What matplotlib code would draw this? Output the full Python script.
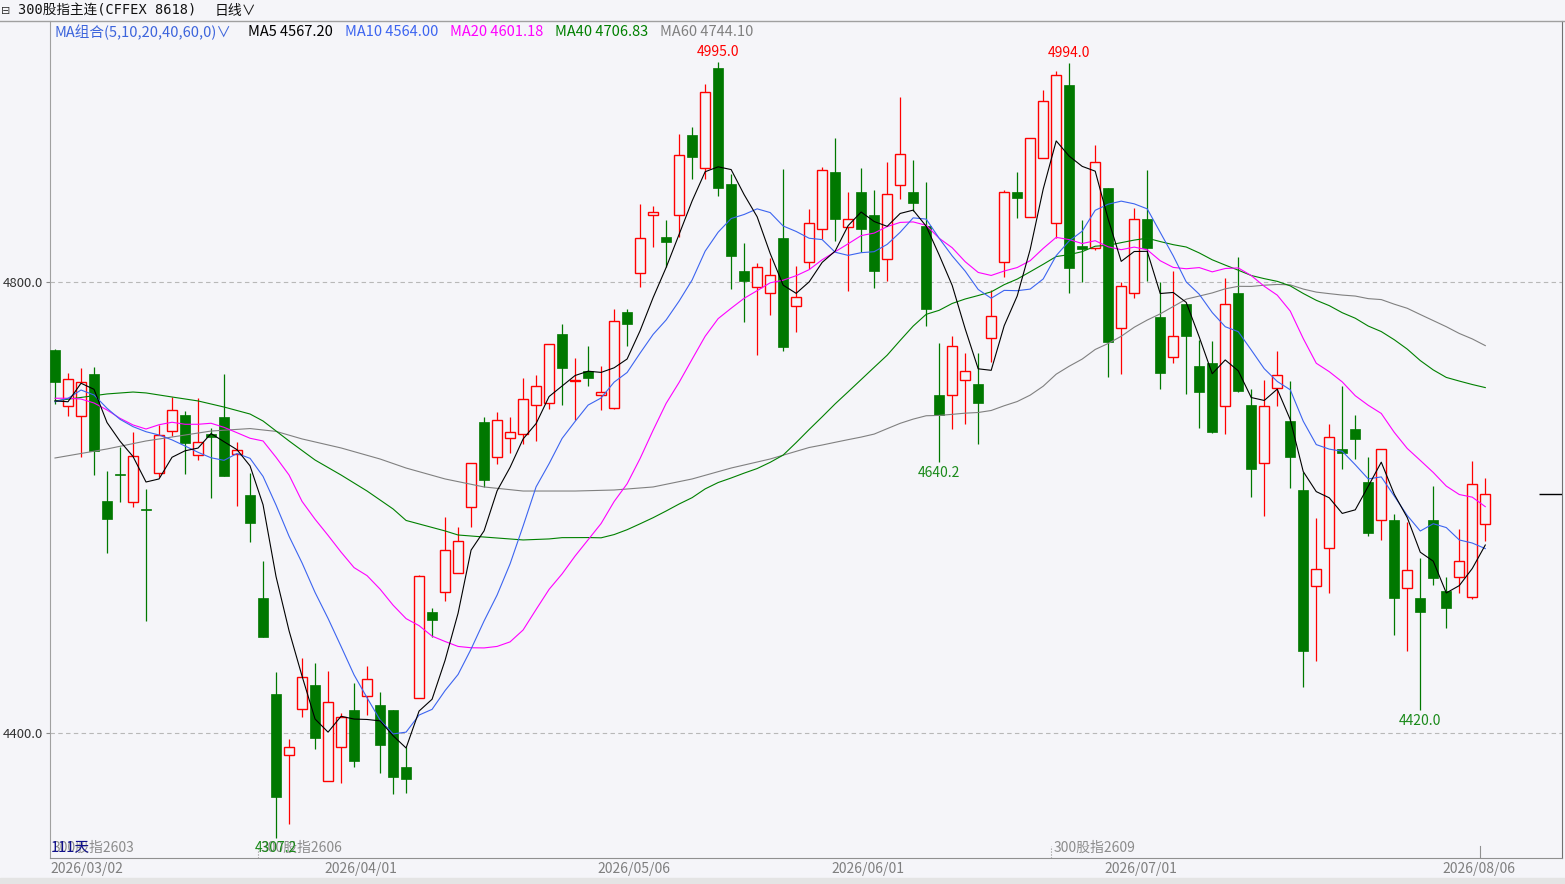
import numpy as np
import pandas as pd
import matplotlib
matplotlib.use('Agg')
import matplotlib.pyplot as plt
from matplotlib.patches import Rectangle

plt.rcParams['font.family'] = ['Noto Sans CJK SC', 'DejaVu Sans']

# daily OHLC, 300股指主连, 111 bars
opens = [4739.7, 4689.8, 4680.9, 4718.4, 4605.8, 4629.5, 4604.6, 4598.8, 4630.3, 4667.6,
         4681.8, 4646.3, 4664.9, 4680.0, 4647.7, 4611.1, 4519.7, 4434.6, 4380.2, 4421.0,
         4442.6, 4357.2, 4387.3, 4420.4, 4432.5, 4424.8, 4420.4, 4369.8, 4430.8, 4507.3,
         4524.8, 4541.6, 4600.2, 4675.8, 4644.5, 4661.4, 4664.9, 4690.6, 4692.4, 4753.9,
         4711.9, 4721.1, 4700.0, 4688.0, 4773.4, 4807.7, 4859.2, 4839.9, 4859.2, 4930.4,
         4900.8, 4989.8, 4886.9, 4809.8, 4795.8, 4790.0, 4838.8, 4779.0, 4817.7, 4846.7,
         4897.6, 4849.0, 4879.8, 4859.4, 4820.1, 4885.8, 4879.6, 4849.9, 4699.8, 4699.5,
         4712.8, 4709.5, 4750.1, 4818.0, 4879.8, 4857.9, 4909.7, 4852.1, 4974.7, 4831.9,
         4829.9, 4883.4, 4758.9, 4790.0, 4855.9, 4769.0, 4733.2, 4780.5, 4725.5, 4727.9,
         4689.8, 4790.0, 4690.9, 4639.2, 4705.7, 4676.7, 4615.5, 4530.1, 4563.8, 4651.9,
         4669.6, 4622.6, 4588.6, 4588.9, 4528.3, 4519.7, 4588.9, 4525.9, 4538.1, 4520.4,
         4585.1]
highs = [4740.6, 4719.6, 4724.0, 4724.9, 4632.4, 4653.9, 4667.0, 4616.1, 4673.2, 4698.3,
         4685.6, 4696.9, 4670.2, 4718.4, 4657.8, 4630.3, 4552.5, 4454.1, 4394.7, 4466.5,
         4461.8, 4455.0, 4417.5, 4444.6, 4459.7, 4436.4, 4420.4, 4387.8, 4540.1, 4510.9,
         4591.6, 4582.7, 4639.2, 4680.5, 4684.7, 4680.5, 4714.9, 4717.5, 4745.0, 4762.7,
         4732.3, 4743.2, 4725.5, 4775.8, 4775.8, 4869.2, 4867.7, 4855.0, 4931.3, 4937.2,
         4975.6, 4995.0, 4895.8, 4834.9, 4817.1, 4821.3, 4900.5, 4814.2, 4864.5, 4901.7,
         4927.7, 4879.8, 4901.1, 4881.6, 4906.4, 4964.3, 4908.2, 4888.7, 4745.6, 4752.1,
         4736.8, 4736.8, 4792.9, 4881.6, 4897.8, 4928.0, 4970.3, 4987.1, 4994.0, 4855.0,
         4921.5, 4883.4, 4799.7, 4865.9, 4899.3, 4800.3, 4809.8, 4780.5, 4748.6, 4747.9,
         4803.3, 4822.4, 4704.8, 4713.1, 4738.8, 4712.2, 4631.8, 4590.4, 4674.1, 4707.8,
         4682.0, 4645.1, 4651.9, 4594.0, 4587.4, 4554.9, 4619.1, 4538.6, 4581.0, 4641.3,
         4626.4]
lows = [4691.8, 4681.4, 4645.1, 4628.8, 4559.9, 4605.1, 4600.7, 4499.6, 4627.3, 4663.4,
        4629.7, 4641.9, 4608.7, 4627.9, 4601.6, 4569.7, 4485.0, 4307.2, 4319.0, 4414.5,
        4386.1, 4357.2, 4355.4, 4370.1, 4416.2, 4364.8, 4345.6, 4346.5, 4430.8, 4485.4,
        4517.3, 4541.6, 4583.0, 4618.5, 4638.8, 4648.6, 4656.1, 4659.2, 4687.6, 4691.2,
        4677.6, 4708.0, 4686.5, 4687.0, 4743.5, 4795.8, 4831.3, 4813.6, 4840.2, 4891.6,
        4891.1, 4876.5, 4793.5, 4764.8, 4735.0, 4770.7, 4739.1, 4755.9, 4811.3, 4837.9,
        4836.6, 4792.3, 4826.6, 4794.7, 4801.2, 4873.9, 4863.2, 4761.0, 4640.2, 4669.4,
        4673.8, 4656.0, 4729.3, 4804.2, 4857.0, 4857.9, 4909.7, 4838.8, 4790.0, 4800.3,
        4828.4, 4716.0, 4718.1, 4785.5, 4800.9, 4704.8, 4727.9, 4700.4, 4670.8, 4665.8,
        4664.9, 4702.7, 4609.6, 4592.7, 4690.3, 4617.6, 4441.0, 4464.1, 4523.9, 4633.9,
        4643.3, 4575.0, 4571.2, 4486.9, 4473.0, 4420.0, 4531.3, 4493.4, 4523.9, 4519.1,
        4570.6]
closes = [4711.6, 4713.7, 4711.0, 4650.4, 4590.1, 4628.8, 4645.7, 4598.0, 4664.0, 4686.2,
          4657.5, 4657.8, 4662.3, 4627.9, 4650.7, 4585.9, 4485.4, 4343.5, 4387.8, 4449.4,
          4395.8, 4427.2, 4413.9, 4375.4, 4447.6, 4389.6, 4361.3, 4359.5, 4539.2, 4500.0,
          4562.3, 4570.3, 4639.2, 4624.7, 4677.3, 4666.7, 4696.0, 4707.5, 4744.7, 4724.0,
          4713.1, 4715.1, 4702.2, 4765.1, 4763.0, 4838.8, 4861.8, 4835.5, 4912.4, 4911.1,
          4968.2, 4883.6, 4823.3, 4801.2, 4813.0, 4805.9, 4742.6, 4787.0, 4852.1, 4899.3,
          4856.1, 4855.6, 4847.3, 4810.0, 4877.8, 4913.3, 4870.3, 4776.3, 4682.0, 4743.0,
          4720.8, 4692.9, 4769.6, 4879.8, 4874.8, 4927.5, 4960.3, 4983.3, 4812.2, 4829.5,
          4906.2, 4747.1, 4796.5, 4855.9, 4830.4, 4719.0, 4751.8, 4752.4, 4702.7, 4667.2,
          4780.2, 4703.6, 4633.9, 4689.8, 4717.3, 4645.1, 4473.0, 4545.2, 4662.3, 4648.1,
          4661.0, 4577.6, 4651.9, 4520.0, 4544.6, 4507.6, 4537.7, 4511.1, 4552.5, 4620.6,
          4611.7]

# moving averages before their window is full come from bars left of the chart,
# so those starts are read off the picture
ma5_head = [4694.5, 4693.8, 4710.2, 4704.8]
ma10_head = [4693.8, 4696.8, 4704.2, 4699.8, 4688.0, 4678.2, 4671.7, 4667.2, 4664.3]
ma20_head = [4696.9, 4696.9, 4696.2, 4692.7, 4686.5, 4679.1, 4673.2, 4669.6, 4673.4, 4675.6,
             4673.8, 4673.8, 4674.7, 4671.1, 4666.3, 4661.4, 4659.0, 4644.5, 4628.8]
ma40_head_idx = [0, 4, 6, 7, 9, 11, 13, 15, 16, 18, 20, 22, 24, 26, 27, 28, 30, 31, 33, 36, 38]
ma40_head_val = [4694.5, 4700.7, 4702.4, 4701.6, 4698.0, 4694.5, 4689.1, 4682.9, 4676.7, 4659.0,
                 4642.1, 4628.8, 4614.6, 4598.7, 4588.5, 4585.4, 4579.2, 4575.6, 4573.8, 4571.2,
                 4572.1]
ma60_head_idx = [0, 4, 7, 9, 12, 15, 17, 19, 22, 25, 27, 30, 33, 36, 40, 43, 46, 49, 52, 55, 58]
ma60_head_val = [4643.9, 4651.9, 4659.0, 4662.5, 4667.8, 4670.0, 4667.5, 4660.8, 4652.8, 4643.0,
                 4635.0, 4625.3, 4618.2, 4614.6, 4614.6, 4615.5, 4618.2, 4625.3, 4635.0, 4643.0,
                 4653.2]

ma_names = ['MA5', 'MA10', 'MA20', 'MA40', 'MA60']
ma_last = [4567.20, 4564.00, 4601.18, 4706.83, 4744.10]

date_labels = ['2026/03/02', '2026/04/01', '2026/05/06', '2026/06/01', '2026/07/01', '2026/08/06']
date_idx = [0, 23, 44, 62, 83, 109]
contract_labels = ['300股指2603', '300股指2606', '300股指2609']
contract_idx = [0, 16, 77]

high_marks = [51, 78]
low_marks = [17, 68, 105]

bg = '#f5f5f9'
up_col = '#ff0000'
dn_col = '#007800'
ma_cols = ['#000000', '#3c64f0', '#ff00ff', '#008000', '#808080']

W, H = 1565, 884
fig = plt.figure(figsize=(W / 100, H / 100), dpi=100, facecolor=bg)
ax = fig.add_axes([50 / W, 1 - 858 / H, (1562 - 50) / W, (858 - 21) / H])
ax.set_facecolor(bg)
ax.set_xlim(-0.385, 115.9)
ax.set_ylim(4289.1, 5031.5)

n = len(closes)
c = pd.Series(closes)

# candles
w = 0.8
for i in range(n):
    o, h, l, cl = opens[i], highs[i], lows[i], closes[i]
    up = cl >= o
    col = up_col if up else dn_col
    ax.vlines(i, l, h, color=col, lw=0.9, zorder=2)
    bottom = min(o, cl)
    hgt = max(abs(cl - o), 0.9)
    if up:
        ax.add_patch(Rectangle((i - w / 2, bottom), w, hgt, facecolor=bg,
                               edgecolor=up_col, lw=1.0, zorder=3))
    else:
        ax.add_patch(Rectangle((i - w / 2, bottom), w, hgt, facecolor=dn_col,
                               edgecolor=dn_col, lw=0.5, zorder=3))


def full_ma(win, head):
    s = c.rolling(win).mean().values
    s[:len(head)] = head
    return np.arange(n), s


def sparse_ma(win, hidx, hval):
    s = c.rolling(win).mean().values
    xs = list(hidx) + list(range(win - 1, n))
    ys = list(hval) + list(s[win - 1:])
    return xs, ys


ma_lines = [full_ma(5, ma5_head), full_ma(10, ma10_head), full_ma(20, ma20_head),
            sparse_ma(40, ma40_head_idx, ma40_head_val),
            sparse_ma(60, ma60_head_idx, ma60_head_val)]
for (xs, ys), col in zip(ma_lines[::-1], ma_cols[::-1]):
    ax.plot(xs, ys, color=col, lw=0.8, zorder=4)

# grid and y labels
for lv in [4400, 4800]:
    ax.axhline(lv, color='#b8b8b8', lw=0.8, ls=(0, (4, 3)), zorder=1)
ax.set_yticks([4400, 4800])
ax.set_yticklabels(['4400.0', '4800.0'], fontsize=9.5, color='#333333')
ax.tick_params(axis='y', length=3, pad=2, color='#888888')
ax.set_xticks([])

ax.spines['top'].set_visible(False)
ax.spines['left'].set_color('#a0a0a0')
ax.spines['bottom'].set_color('#909090')
ax.spines['right'].set_color('#707070')

# high / low marks
for i in high_marks:
    ax.annotate(f'{highs[i]:.1f}', (i, highs[i]), xytext=(0, 7.5), textcoords='offset points',
                ha='center', va='center', color='#ff0000', fontsize=10, zorder=5)
for i in low_marks:
    ax.annotate(f'{lows[i]:.1f}', (i, lows[i]), xytext=(0, -7.5), textcoords='offset points',
                ha='center', va='center', color='#1a8a1a', fontsize=10, zorder=6)

# last price marker
ax.hlines(closes[-1], 114.1, 115.9, color='black', lw=1.0, zorder=5)

# contract names and bar count along the bottom
xt = ax.get_xaxis_transform()
for lab, i in zip(contract_labels, contract_idx):
    ax.text(i - 0.2, 0.012, lab, transform=xt, ha='left', va='center', color='#8c8c8c', fontsize=10)
    if i > 0:
        ax.plot([i - 0.4, i - 0.4], [0, 0.014], transform=xt, color='#909090', lw=0.8, ls=':')
ax.text(-0.3, 0.013, f'{n}天', transform=xt, ha='left', va='center', color='#10108c', fontsize=10.5)
ax.plot([date_idx[-1] + 0.6] * 2, [0, 0.014], transform=xt, color='#909090', lw=0.8)

# date labels
for k, (lab, i) in enumerate(zip(date_labels, date_idx)):
    if k == 0:
        ax.text(-0.385, -0.0131, lab, transform=xt, ha='left', va='center', color='#7f7f7f', fontsize=10)
    else:
        ax.text(i + 0.5, -0.0131, lab, transform=xt, ha='center', va='center', color='#7f7f7f', fontsize=10)

# header bar
fig.add_artist(plt.Line2D([0, 1], [1 - 21 / H, 1 - 21 / H], color='#a0a0a0', lw=1.0))
fig.add_artist(Rectangle((0, 0), 1, 6 / H, transform=fig.transFigure, color='#e4e4e4'))
fig.text(1 / W, 1 - 11 / H, '⊟', fontsize=8, va='center', ha='left', color='#333333')
fig.text(18 / W, 1 - 11 / H, '300股指主连(CFFEX 8618)', fontsize=9.8, va='center', ha='left',
         color='#111111', family=['DejaVu Sans Mono', 'Noto Sans CJK SC'])
fig.text(215 / W, 1 - 11 / H, '日线∨', fontsize=10, va='center', ha='left', color='#111111')

# MA legend
ly = 1 - 32 / H
fig.text(55 / W, ly, 'MA组合(5,10,20,40,60,0)∨', fontsize=10.5, va='center', ha='left', color='#3c64dc')
leg_x = [248, 345, 450, 555, 660]
for name, val, col, x in zip(ma_names, ma_last, ma_cols, leg_x):
    fig.text(x / W, ly, f'{name} {val:.2f}', fontsize=10.5, va='center', ha='left', color=col)

fig.savefig('out.png', dpi=100, facecolor=bg)
